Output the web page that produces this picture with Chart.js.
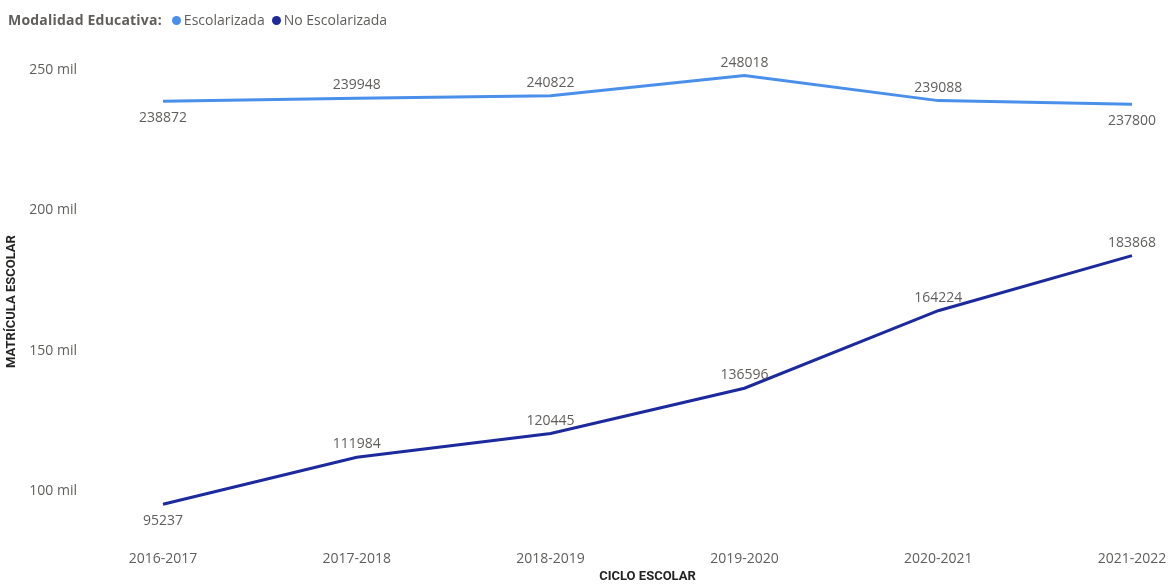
<!DOCTYPE html>
<html>
<head>
<meta charset="utf-8">
<script src="https://cdn.jsdelivr.net/npm/chart.js@4"></script>
<style>
  html, body { margin: 0; padding: 0; background: #ffffff; overflow: hidden; }
  #wrap { position: relative; width: 1176px; height: 586px; overflow: hidden; }
  #legend { position: absolute; left: 8px; top: 10px; font-family: "Open Sans", sans-serif; font-size: 14px; color: #605E5C; white-space: nowrap; z-index: 2; }
  #legend b { font-weight: 700; margin-right: 10px; letter-spacing: 0.2px; }
  #legend .dot { display: inline-block; width: 9px; height: 9px; border-radius: 50%; margin-right: 3px; }
  #legend .item { margin-right: 7px; }
  #box { position: absolute; left: 0; top: 0; width: 1176px; height: 586px; }
</style>
</head>
<body>
<div id="wrap">
  <div id="legend"></div>
  <div id="box"><canvas id="c"></canvas></div>
</div>
<script>
const legendTitle = "Modalidad Educativa:";
const categories = ["2016-2017", "2017-2018", "2018-2019", "2019-2020", "2020-2021", "2021-2022"];
const seriesNames = ["Escolarizada", "No Escolarizada"];
const escolarizada = [238872, 239948, 240822, 248018, 239088, 237800];
const noEscolarizada = [95237, 111984, 120445, 136596, 164224, 183868];
const escolarizadaLabelPos = ["below", "above", "above", "above", "above", "below"];
const noEscolarizadaLabelPos = ["below", "above", "above", "above", "above", "above"];
const yTickValues = [100000, 150000, 200000, 250000];
const yTitle = "MATRÍCULA ESCOLAR";
const xTitle = "CICLO ESCOLAR";
const colors = ["#4A8FEA", "#1C2A9E"];

const lg = document.getElementById('legend');
let html = '<b>' + legendTitle + '</b>';
seriesNames.forEach((n, i) => {
  html += '<span class="item"><span class="dot" style="background:' + colors[i] + '"></span>' + n + '</span>';
});
lg.innerHTML = html;

const labelPositions = [escolarizadaLabelPos, noEscolarizadaLabelPos];

const dataLabelPlugin = {
  id: 'dataLabels',
  afterDatasetsDraw(chart) {
    const ctx = chart.ctx;
    ctx.save();
    ctx.font = '14px "Open Sans", sans-serif';
    ctx.fillStyle = '#605E5C';
    ctx.textAlign = 'center';
    ctx.textBaseline = 'middle';
    chart.data.datasets.forEach((ds, di) => {
      const meta = chart.getDatasetMeta(di);
      meta.data.forEach((pt, i) => {
        const pos = labelPositions[di][i];
        const dy = pos === 'above' ? -13 : 17;
        ctx.fillText(String(ds.data[i]), pt.x, pt.y + dy);
      });
    });
    ctx.restore();
  }
};

new Chart(document.getElementById('c'), {
  type: 'line',
  data: {
    labels: categories,
    datasets: [
      { label: seriesNames[0], data: escolarizada, borderColor: colors[0], backgroundColor: colors[0], borderWidth: 3, pointRadius: 0, pointHoverRadius: 0, tension: 0 },
      { label: seriesNames[1], data: noEscolarizada, borderColor: colors[1], backgroundColor: colors[1], borderWidth: 3, pointRadius: 0, pointHoverRadius: 0, tension: 0 }
    ]
  },
  options: {
    responsive: true,
    maintainAspectRatio: false,
    animation: false,
    layout: { padding: { top: 70, right: 44, left: 0, bottom: 0 } },
    plugins: {
      legend: { display: false },
      tooltip: { enabled: false }
    },
    scales: {
      x: {
        type: 'category',
        offset: false,
        grid: { display: false, drawTicks: false },
        border: { display: false },
        ticks: { color: '#605E5C', font: { family: 'Open Sans', size: 14 }, padding: 18, maxRotation: 0, autoSkip: false },
        title: { display: true, text: xTitle, color: '#252423', font: { family: 'Roboto', size: 13, weight: 'bold' }, padding: { top: 0, bottom: 1 } },
        afterFit(scale) { scale.height = 53; scale.paddingLeft = 0; scale.paddingRight = 0; }
      },
      y: {
        min: 85000,
        max: 250000,
        grid: { display: false, drawTicks: false },
        border: { display: false },
        afterBuildTicks(scale) { scale.ticks = yTickValues.map(v => ({ value: v })); },
        ticks: {
          color: '#605E5C',
          font: { family: 'Open Sans', size: 14 },
          padding: 86,
          callback: (v) => (v / 1000) + ' mil'
        },
        title: { display: true, text: yTitle, color: '#252423', font: { family: 'Roboto', size: 13, weight: 'bold' }, padding: { top: 4, bottom: 0 } },
        afterFit(scale) { scale.width = 163; scale.paddingTop = 0; scale.paddingBottom = 0; }
      }
    }
  },
  plugins: [dataLabelPlugin]
});
</script>
</body>
</html>
